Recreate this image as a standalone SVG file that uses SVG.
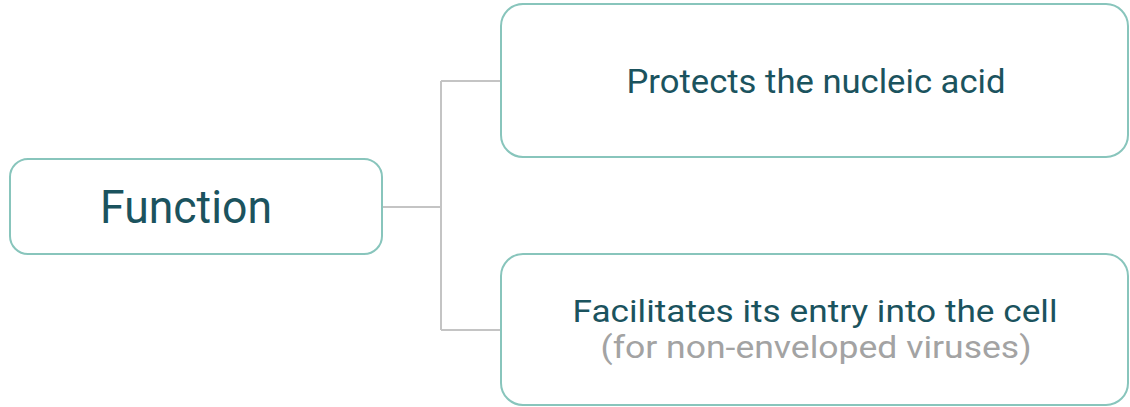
<svg xmlns="http://www.w3.org/2000/svg" width="1130" height="407" viewBox="0 0 1130 407">
<style>
.box{fill:#ffffff;stroke:#88c5bc;stroke-width:2}
.t{font-family:Roboto,"Liberation Sans",sans-serif;fill:#1b535e;text-anchor:middle}
.s{font-family:Roboto,"Liberation Sans",sans-serif;fill:#a3a3a3;text-anchor:middle}
.c{fill:none;stroke:#c4c4c4;stroke-width:2}
</style>
<rect width="1130" height="407" fill="#ffffff"/>
<g id="connectors">
<path class="c" d="M382 207 H441 M441 81 V330 M441 81 H501 M441 330 H501"/>
</g>
<g id="function">
<rect class="box" x="10" y="159" width="372" height="95" rx="18"/>
<text class="t" x="186" y="223" font-size="47" textLength="172" lengthAdjust="spacingAndGlyphs">Function</text>
</g>
<g id="protects">
<rect class="box" x="501" y="4" width="627" height="153" rx="22"/>
<text class="t" x="816" y="93" font-size="34" textLength="379" lengthAdjust="spacingAndGlyphs">Protects the nucleic acid</text>
</g>
<g id="facilitates">
<rect class="box" x="501" y="254" width="627" height="151" rx="22"/>
<text class="t" x="815" y="322" font-size="32" textLength="485" lengthAdjust="spacingAndGlyphs">Facilitates its entry into the cell</text>
<text class="s" x="816" y="358" font-size="32" textLength="431" lengthAdjust="spacingAndGlyphs">(for non-enveloped viruses)</text>
</g>
</svg>
